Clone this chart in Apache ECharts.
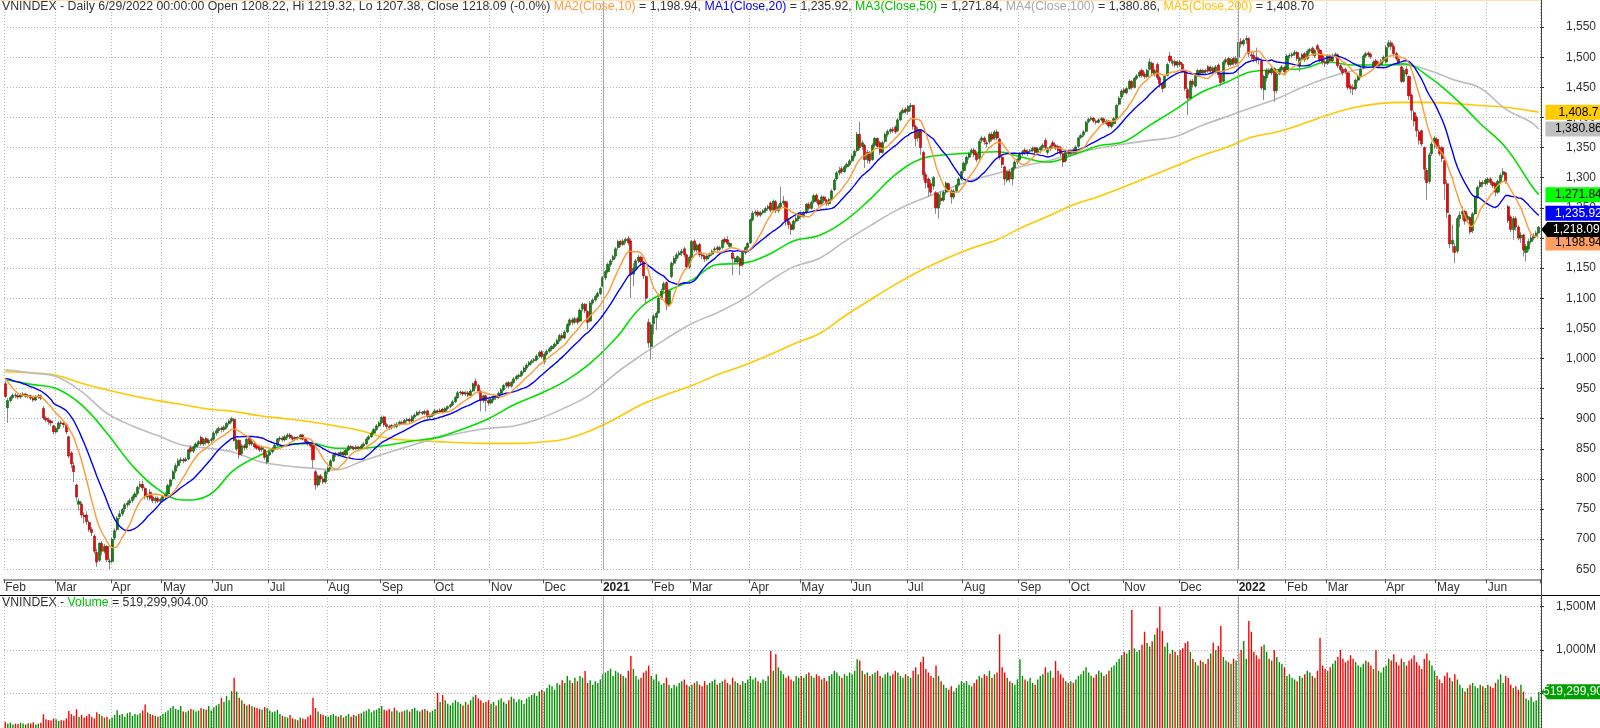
<!DOCTYPE html>
<html><head><meta charset="utf-8">
<script src="https://cdn.jsdelivr.net/npm/echarts@6/dist/echarts.min.js"></script>
<style>html,body{margin:0;padding:0;background:#fff}#c{width:1600px;height:728px}</style>
</head><body><div id="c"></div>
<script>
// ---- categories: month labels and number of trading days in each month ----
const monthLabels = ['Feb','Mar','Apr','May','Jun','Jul','Aug','Sep','Oct','Nov','Dec','2021','Feb','Mar','Apr','May','Jun','Jul','Aug','Sep','Oct','Nov','Dec','2022','Feb','Mar','Apr','May','Jun'];
const monthDays   = [20,22,20,20,22,23,21,21,22,21,23,20,15,23,20,20,22,22,22,20,21,22,23,19,16,23,20,20,21];

// ---- daily candles [open, close, low, high] ----
const candles = [
// Feb 2020
[958,937,934,962],[918,930,893,934],[930,935,927,938],[935,939,932,942],[939,938,934,943],[938,936,932,941],[936,939,933,942],[939,941,936,944],[941,937,935,943],[937,938,934,941],
[938,934,931,940],[934,931,928,937],[931,936,929,939],[936,938,933,941],[938,934,931,940],[917,901,898,921],[901,898,894,905],[898,895,890,902],[896,893,888,899],[888,878,874,890],
// Mar 2020
[878,884,875,888],[884,893,882,896],[893,892,887,897],[892,890,885,895],[890,878,874,892],[870,838,835,872],[843,825,818,846],[822,812,795,828],[790,770,763,792],[758,763,748,768],
[758,740,735,762],[740,737,726,745],[740,729,724,746],[728,716,712,731],[716,711,705,720],[705,680,676,708],[678,662,654,684],[665,693,662,696],[693,680,673,697],[680,688,676,692],
[688,666,662,690],[662,664,650,668],
// Apr 2020
[663,700,660,703],[702,714,698,718],[716,735,713,738],[737,742,733,748],[742,749,738,752],[750,757,745,760],[757,760,752,764],[760,764,756,768],[764,770,760,773],[770,775,766,779],
[776,786,773,789],[787,791,783,796],[791,785,780,797],[784,770,766,787],[770,772,765,776],[778,768,764,783],[770,764,760,773],[764,768,759,771],[768,763,760,771],[763,766,760,769],
// May 2020
[766,771,762,774],[771,774,767,778],[775,789,773,792],[789,798,786,801],[800,812,797,815],[813,822,810,826],[822,830,818,834],[830,832,826,836],[832,830,826,835],[830,833,828,836],
[833,848,831,850],[852,846,843,856],[846,853,843,856],[853,858,850,861],[858,862,855,865],[869,858,855,872],[858,866,855,868],[867,860,857,870],[860,864,857,867],[864,866,860,869],
// Jun 2020
[866,876,863,879],[876,880,872,884],[880,884,876,887],[884,882,877,887],[882,886,878,889],[886,892,883,895],[892,896,889,899],[896,900,893,903],[899,864,862,901],[850,864,846,867],
[864,840,833,866],[842,855,838,858],[855,852,847,858],[852,866,849,868],[869,858,855,871],[858,862,855,865],[859,853,850,862],[856,851,848,858],[852,848,845,855],[849,852,845,856],
[848,836,832,850],[828,840,824,843],
// Jul 2020
[840,845,838,849],[845,850,842,853],[850,856,847,859],[856,866,853,868],[866,868,862,871],[868,865,862,871],[865,870,862,873],[870,873,867,876],[873,869,866,876],[869,866,863,872],
[866,869,862,871],[869,867,864,871],[867,873,865,875],[873,866,864,875],[866,862,859,868],[862,858,855,864],[858,855,852,860],[856,832,818,857],[812,790,782,815],[790,805,786,808],
[805,800,794,808],[800,795,791,804],[795,812,792,815],
// Aug 2020
[812,818,808,821],[818,830,816,833],[830,840,828,843],[840,842,836,845],[842,840,837,845],[840,844,838,847],[844,840,838,847],[840,848,838,850],[848,854,846,857],[854,852,849,856],
[852,850,847,855],[850,853,848,856],[853,851,848,855],[851,855,849,858],[855,858,853,861],[858,866,856,869],[866,870,864,873],[870,876,868,879],[876,882,874,885],[882,888,880,891],
[888,893,885,896],
// Sep 2020
[893,902,891,905],[903,890,886,905],[890,887,883,893],[887,885,881,890],[885,889,882,891],[889,887,884,892],[887,891,884,894],[891,894,888,897],[894,892,889,897],[892,897,890,900],
[897,899,894,902],[899,896,893,902],[896,903,894,906],[903,906,900,909],[906,910,904,913],[910,911,907,914],[911,909,906,913],[909,912,906,915],[913,903,900,915],[903,905,899,908],
[905,908,902,911],
// Oct 2020
[908,913,905,916],[913,911,908,915],[911,914,909,917],[916,912,909,918],[912,917,910,919],[917,920,914,922],[920,923,917,925],[923,928,921,931],[928,935,926,938],[935,943,933,946],
[943,944,939,947],[944,941,938,946],[941,943,938,946],[943,939,936,946],[939,946,937,949],[946,958,944,960],[962,955,950,967],[955,945,942,958],[945,930,912,948],[930,938,926,940],
[938,930,912,940],[930,926,922,933],
// Nov 2020
[926,932,924,935],[932,937,929,939],[937,935,931,940],[935,942,933,945],[942,948,940,951],[948,955,946,958],[955,959,951,961],[960,954,951,962],[954,960,952,963],[960,966,958,969],
[966,970,963,973],[970,972,966,975],[972,978,969,981],[978,984,975,987],[984,989,981,992],[989,993,986,996],[993,996,990,999],[996,998,993,1001],[998,1004,995,1007],[1004,1010,1001,1013],
[1011,1003,1000,1014],
// Dec 2020
[995,1007,990,1010],[1007,1012,1004,1015],[1012,1016,1009,1019],[1016,1020,1012,1022],[1020,1024,1017,1027],[1024,1030,1021,1033],[1030,1038,1027,1041],[1038,1034,1030,1042],[1034,1044,1032,1047],[1044,1056,1042,1059],
[1056,1064,1053,1067],[1064,1060,1055,1068],[1060,1066,1057,1069],[1066,1060,1056,1069],[1062,1080,1060,1083],[1082,1090,1078,1093],[1090,1079,1075,1092],[1078,1060,1048,1080],[1062,1092,1060,1095],[1092,1097,1089,1100],
[1097,1103,1094,1106],[1103,1108,1100,1111],[1108,1116,1105,1119],
// Jan 2021
[1120,1134,1118,1137],[1134,1144,1130,1147],[1144,1156,1141,1159],[1156,1162,1152,1165],[1164,1169,1160,1172],[1170,1182,1166,1185],[1184,1194,1180,1197],[1194,1189,1185,1197],[1189,1195,1187,1198],[1195,1198,1191,1201],
[1199,1192,1188,1203],[1195,1140,1100,1199],[1140,1150,1120,1158],[1150,1162,1145,1165],[1162,1168,1158,1172],[1168,1160,1155,1171],[1160,1137,1132,1162],[1136,1100,1091,1138],[1060,1026,1018,1066],[1020,1056,998,1060],
// Feb 2021
[1058,1070,1040,1074],[1068,1075,1047,1078],[1076,1100,1074,1104],[1100,1112,1097,1116],[1114,1124,1110,1128],[1126,1090,1080,1128],[1090,1112,1086,1115],[1136,1158,1133,1161],[1158,1166,1154,1170],[1166,1172,1161,1176],
[1172,1175,1167,1179],[1175,1178,1170,1182],[1182,1172,1168,1185],[1172,1152,1148,1174],[1152,1168,1148,1171],
// Mar 2021
[1168,1194,1166,1197],[1195,1180,1176,1198],[1180,1188,1176,1191],[1189,1172,1168,1192],[1172,1170,1165,1177],[1170,1165,1160,1172],[1165,1170,1162,1172],[1170,1173,1167,1176],[1173,1178,1170,1181],[1180,1182,1176,1186],
[1184,1181,1177,1187],[1181,1184,1178,1187],[1184,1196,1181,1198],[1198,1194,1190,1201],[1197,1191,1188,1203],[1186,1191,1183,1193],[1175,1166,1138,1178],[1160,1166,1156,1169],[1160,1169,1156,1171],[1166,1154,1138,1168],
[1156,1176,1152,1178],[1176,1184,1172,1186],[1184,1191,1180,1193],
// Apr 2021
[1192,1230,1190,1233],[1230,1241,1227,1245],[1241,1243,1236,1247],[1243,1238,1234,1246],[1238,1242,1235,1245],[1242,1245,1239,1248],[1245,1249,1241,1252],[1249,1252,1245,1255],[1258,1246,1242,1261],[1246,1261,1244,1264],
[1260,1245,1241,1263],[1245,1252,1242,1256],[1252,1258,1248,1285],[1258,1261,1254,1270],[1260,1228,1220,1262],[1228,1222,1215,1233],[1222,1214,1205,1226],[1215,1228,1212,1231],[1228,1232,1224,1236],[1232,1240,1228,1243],
// May 2021
[1240,1236,1232,1244],[1236,1242,1233,1245],[1243,1256,1240,1258],[1256,1249,1245,1259],[1249,1259,1247,1262],[1260,1270,1257,1273],[1271,1262,1258,1274],[1262,1256,1252,1265],[1257,1268,1255,1271],[1268,1262,1258,1270],
[1262,1257,1253,1265],[1257,1264,1254,1266],[1265,1278,1263,1281],[1280,1296,1278,1299],[1298,1308,1295,1311],[1308,1312,1304,1318],[1315,1310,1306,1319],[1310,1318,1308,1321],[1318,1322,1315,1325],[1322,1328,1319,1331],
// Jun 2021
[1328,1336,1325,1339],[1336,1344,1332,1347],[1345,1372,1342,1376],[1372,1350,1346,1393],[1352,1358,1346,1362],[1354,1330,1316,1356],[1330,1342,1324,1346],[1342,1328,1323,1344],[1330,1354,1328,1357],[1354,1365,1350,1368],
[1365,1352,1349,1367],[1358,1342,1338,1361],[1342,1358,1340,1362],[1360,1372,1357,1375],[1372,1377,1368,1380],[1377,1380,1373,1383],[1380,1378,1374,1384],[1384,1376,1373,1387],[1378,1396,1376,1399],[1396,1408,1394,1411],
[1408,1412,1405,1416],[1414,1410,1406,1417],
// Jul 2021
[1410,1418,1405,1421],[1418,1420,1410,1424],[1420,1385,1380,1421],[1385,1365,1352,1388],[1366,1380,1360,1384],[1378,1350,1338,1380],[1342,1305,1296,1345],[1305,1292,1282,1310],[1298,1284,1268,1300],[1290,1276,1270,1296],
[1286,1300,1280,1303],[1275,1250,1240,1278],[1250,1272,1232,1275],[1266,1262,1255,1278],[1263,1276,1260,1279],[1276,1291,1272,1294],[1290,1280,1276,1292],[1278,1268,1257,1281],[1268,1278,1264,1281],[1278,1287,1275,1290],
[1288,1298,1285,1301],[1298,1310,1295,1312],
// Aug 2021
[1312,1324,1308,1327],[1324,1334,1320,1337],[1334,1340,1330,1343],[1342,1346,1338,1349],[1346,1338,1334,1349],[1340,1330,1326,1344],[1332,1360,1330,1364],[1362,1366,1358,1370],[1366,1360,1355,1369],[1358,1356,1350,1362],
[1360,1372,1356,1375],[1372,1364,1360,1376],[1366,1376,1362,1379],[1376,1366,1362,1380],[1364,1334,1330,1366],[1334,1322,1316,1336],[1318,1298,1288,1320],[1296,1310,1292,1312],[1310,1298,1292,1313],[1298,1316,1288,1318],
[1316,1326,1312,1329],[1326,1330,1322,1333],
// Sep 2021
[1330,1340,1327,1343],[1340,1343,1336,1346],[1346,1342,1338,1349],[1340,1344,1336,1347],[1344,1345,1340,1348],[1345,1349,1342,1352],[1350,1342,1338,1352],[1342,1348,1339,1351],[1346,1350,1340,1353],[1350,1354,1346,1357],
[1362,1350,1346,1366],[1342,1348,1338,1351],[1348,1352,1344,1355],[1358,1353,1349,1362],[1353,1349,1346,1356],[1352,1345,1341,1355],[1350,1340,1335,1353],[1340,1326,1318,1343],[1328,1342,1325,1345],[1342,1340,1335,1346],
// Oct 2021
[1340,1344,1335,1347],[1346,1341,1338,1349],[1341,1351,1338,1354],[1352,1366,1350,1368],[1367,1370,1364,1373],[1371,1376,1368,1379],[1377,1392,1375,1394],[1393,1397,1390,1400],[1397,1399,1394,1402],[1399,1394,1391,1401],
[1394,1392,1388,1397],[1392,1396,1390,1399],[1396,1398,1393,1401],[1398,1391,1388,1400],[1390,1394,1387,1397],[1394,1386,1382,1396],[1385,1390,1382,1393],[1390,1398,1387,1401],[1399,1420,1397,1423],[1422,1432,1419,1435],
[1434,1444,1430,1447],
// Nov 2021
[1446,1441,1437,1450],[1441,1448,1438,1451],[1448,1460,1446,1463],[1460,1450,1446,1462],[1450,1465,1448,1467],[1465,1469,1462,1472],[1469,1475,1466,1478],[1478,1470,1466,1481],[1472,1468,1464,1476],[1468,1478,1465,1481],
[1480,1492,1478,1498],[1490,1474,1470,1493],[1472,1478,1468,1481],[1488,1466,1462,1491],[1466,1456,1450,1469],[1456,1448,1442,1459],[1450,1468,1448,1471],[1470,1488,1468,1491],[1502,1494,1490,1509],[1490,1493,1485,1497],
[1493,1487,1483,1496],[1487,1492,1482,1495],
// Dec 2021
[1492,1488,1484,1496],[1488,1478,1474,1491],[1476,1448,1444,1478],[1446,1432,1404,1450],[1432,1460,1428,1463],[1460,1455,1450,1464],[1452,1470,1450,1473],[1470,1478,1467,1481],[1478,1474,1470,1481],[1474,1478,1471,1481],
[1478,1476,1472,1481],[1484,1477,1474,1487],[1477,1483,1474,1486],[1482,1476,1472,1485],[1476,1484,1473,1487],[1487,1471,1465,1490],[1474,1458,1452,1477],[1460,1492,1458,1495],[1492,1496,1488,1499],[1498,1488,1484,1501],
[1488,1496,1485,1499],[1498,1490,1486,1501],[1490,1498,1487,1502],
// Jan 2022
[1500,1525,1498,1529],[1526,1522,1516,1532],[1522,1528,1518,1531],[1529,1531,1522,1536],[1531,1506,1500,1533],[1504,1502,1496,1510],[1503,1497,1492,1509],[1500,1497,1490,1516],[1497,1496,1488,1500],[1494,1449,1446,1498],
[1446,1468,1429,1471],[1466,1478,1460,1482],[1478,1474,1470,1482],[1474,1481,1470,1484],[1481,1444,1426,1483],[1445,1472,1440,1476],[1472,1480,1470,1483],[1480,1484,1476,1487],[1483,1476,1472,1486],
// Feb 2022
[1480,1502,1478,1505],[1502,1503,1498,1507],[1503,1505,1499,1508],[1505,1508,1502,1512],[1508,1498,1494,1510],[1486,1498,1476,1501],[1498,1504,1494,1507],[1506,1496,1492,1509],[1498,1510,1495,1513],[1510,1513,1506,1516],
[1515,1507,1503,1518],[1502,1511,1499,1514],[1519,1513,1509,1522],[1512,1496,1492,1515],[1503,1492,1488,1506],[1492,1490,1484,1496],
// Mar 2022
[1490,1502,1487,1505],[1502,1494,1490,1505],[1494,1503,1491,1506],[1503,1505,1499,1508],[1504,1486,1482,1506],[1486,1480,1476,1489],[1480,1474,1470,1484],[1480,1476,1472,1483],[1474,1450,1446,1476],[1452,1448,1440,1456],
[1450,1447,1437,1455],[1448,1462,1445,1465],[1462,1468,1458,1471],[1468,1480,1465,1483],[1482,1502,1480,1505],[1502,1506,1499,1509],[1507,1504,1500,1510],[1505,1501,1497,1508],[1484,1492,1480,1495],[1494,1486,1482,1497],
[1486,1490,1482,1493],[1488,1494,1485,1497],[1494,1500,1491,1503],
// Apr 2022
[1492,1516,1490,1520],[1518,1524,1515,1529],[1524,1518,1512,1528],[1518,1506,1502,1522],[1506,1498,1494,1509],[1497,1490,1486,1500],[1484,1460,1457,1486],[1460,1478,1458,1482],[1480,1472,1468,1485],[1468,1436,1429,1470],
[1437,1412,1396,1440],[1408,1394,1385,1412],[1400,1378,1368,1404],[1376,1362,1355,1380],[1378,1356,1352,1380],[1350,1314,1296,1352],[1312,1292,1263,1316],[1294,1338,1290,1342],[1340,1356,1336,1360],[1358,1366,1348,1369],
// May 2022
[1364,1352,1348,1367],[1350,1340,1336,1354],[1350,1332,1326,1353],[1328,1290,1263,1330],[1290,1242,1233,1296],[1238,1190,1183,1240],[1190,1196,1176,1222],[1186,1176,1158,1192],[1178,1232,1174,1236],[1232,1238,1218,1244],
[1240,1244,1230,1252],[1244,1228,1222,1247],[1230,1236,1225,1241],[1234,1210,1206,1236],[1212,1240,1208,1243],[1240,1268,1238,1270],[1268,1284,1265,1287],[1285,1292,1282,1296],[1292,1290,1284,1296],[1290,1296,1287,1299],
// Jun 2022
[1292,1298,1288,1301],[1298,1292,1288,1301],[1292,1287,1283,1295],[1290,1276,1269,1292],[1276,1294,1273,1297],[1294,1304,1290,1308],[1305,1310,1300,1316],[1308,1294,1290,1310],[1252,1229,1225,1255],[1235,1214,1210,1238],
[1214,1232,1197,1236],[1232,1218,1212,1236],[1218,1200,1196,1222],[1200,1205,1192,1210],[1205,1180,1169,1207],[1176,1186,1161,1190],[1182,1194,1178,1198],[1194,1200,1190,1205],[1200,1204,1196,1208],[1204,1208,1200,1212],
[1208.22,1218.09,1207.38,1219.32]
];

// ---- daily volume, millions of shares ----
const volumes = [
170,150,160,140,150,145,160,150,140,155,150,165,140,150,160,257,200,190,185,210,
200,180,190,185,210,295,260,240,315,230,250,220,240,260,230,210,280,260,240,220,230,200,
220,250,303,250,260,230,270,280,240,260,250,270,300,372,280,260,250,240,230,240,
260,280,300,330,353,320,310,353,290,280,300,320,310,290,300,330,320,310,353,300,
340,360,380,449,400,468,420,526,680,520,450,420,380,360,372,350,340,330,320,310,340,330,
300,280,290,310,260,240,230,220,250,210,200,190,220,210,200,230,250,449,330,290,260,250,240,
230,250,260,240,230,250,220,240,260,230,250,240,260,270,290,300,320,280,300,310,330,
353,310,300,320,290,334,300,280,290,300,310,290,320,330,300,290,310,320,300,280,300,
320,507,400,480,420,380,360,390,420,400,380,360,400,370,420,460,480,440,420,390,400,420,
380,400,360,420,440,400,380,420,460,440,400,430,420,380,440,460,480,500,470,520,540,
520,560,600,580,540,620,600,650,620,700,650,620,680,640,700,680,757,620,650,600,640,620,660,
720,740,760,784,700,760,740,720,700,680,760,930,780,700,660,680,740,760,820,700,
660,719,640,600,620,680,600,560,600,580,620,640,660,600,580,
600,620,640,600,580,640,600,620,640,660,600,620,640,660,620,600,680,640,620,600,640,620,660,
700,660,680,640,620,660,640,700,988,760,950,800,760,720,680,700,660,640,700,680,
700,680,720,740,700,680,720,700,660,680,640,700,720,760,740,700,680,720,700,740,
720,760,892,880,760,720,740,700,720,740,760,700,680,720,740,700,720,760,740,700,680,720,
700,680,760,800,720,860,923,780,740,700,680,820,700,640,600,560,540,580,520,560,600,640,
620,640,600,580,620,660,700,680,720,700,760,680,720,740,1181,800,740,680,640,620,600,660,
892,700,660,640,680,620,600,660,700,720,800,740,760,680,873,760,720,680,640,620,
640,620,660,700,720,760,800,740,700,680,720,760,740,700,720,760,800,820,860,900,940,
980,960,1000,1462,1020,980,1000,1060,1211,1080,1040,1100,1180,1250,1500,1219,1040,1085,960,1000,980,940,
1000,1020,1080,1100,980,900,860,820,880,860,840,900,960,1085,1000,1046,1277,920,880,860,840,900,880,
960,1000,1104,900,1335,1211,980,940,900,1040,1060,980,900,880,1000,920,860,840,800,
700,720,680,660,640,700,680,720,760,740,700,680,760,1142,820,780,
760,800,840,880,920,1000,900,860,880,940,900,860,820,800,840,880,860,820,780,1000,760,740,800,
820,900,880,950,860,820,900,860,820,880,900,940,860,820,780,900,960,880,820,760,
700,660,620,700,740,680,640,720,660,600,560,520,560,600,620,580,560,600,580,560,
600,580,560,620,660,719,620,700,680,600,560,580,540,600,520,440,420,460,400,420,519.3
];

// ---- short MAs before a full window exists (first bars) ----
const ma10Head = [967,961,956,950,946,942,940,939,938];
const ma20Head = [967,966,965,963,962,961,960,958,957,955,953,952,950,948,946,943,940,936,932];

// ---- long moving averages every MA_STEP bars (last one = final bar) ----
const MA_STEP = 10;
const ma50Pts  = [965,957,950,923,876,822,783,765,773,815, 839,856,859,851,851,856,863,869,883,900, 923,941,962,992,1033,1085,1111,1130,1156,1158, 1172,1195,1204,1228,1264,1305,1331,1338,1341,1343, 1334,1326,1338,1353,1360,1387,1413,1441,1458,1476, 1479,1481,1492,1487,1487,1489,1467,1432,1390,1350, 1288,1271.84];
const ma100Pts = [981,976,970,945,909,888,872,856,851,844, 829,822,818,815,829,843,856,868,877,884, 888,900,918,940,975,1005,1033,1058,1076,1098, 1127,1152,1166,1194,1220,1245,1264,1280,1296,1307, 1319,1328,1340,1349,1356,1362,1368,1386,1401,1416, 1431,1450,1466,1478,1485,1487,1478,1462,1449,1414, 1392,1380.86];
const ma200Pts = [978,976,972,959,948,938,930,923,916,912, 905,900,895,888,880,868,864,862,860,859, 859,861,866,880,900,923,940,955,973,988, 1005,1024,1041,1070,1097,1123,1146,1166,1183,1197, 1218,1236,1255,1269,1285,1302,1319,1336,1350,1367, 1376,1389,1404,1416,1423,1425,1425,1423,1420,1417, 1411,1408.70];

// ---- values printed in the header / right-hand tags ----
const lastMA = { ma10: 1198.94, ma20: 1235.92, ma50: 1271.84, ma100: 1380.86, ma200: 1408.70 };
const lastVolume = 519299904;
const priceTicks = { min: 650, max: 1595, step: 50 };
const volTicks = { min: 0, max: 1635, step: 500 };

// ================= build =================
const FONT = 'Arial, "Liberation Sans", sans-serif';
const UP = '#009000', DOWN = '#ff0000';
const cats = [], monthStart = {};
let n = 0;
monthLabels.forEach((lab, m) => { monthStart[n] = lab; for (let d = 0; d < monthDays[m]; d++) cats.push('d' + (n++)); });
const LAST = cats.length - 1;
const isStart = (i) => monthStart[i] !== undefined;
const yearCats = Object.keys(monthStart).filter(k => /^\d{4}$/.test(monthStart[k])).map(k => cats[+k]);

const closes = candles.map(c => c[1]);
function movingAverage(len, head) {
  return closes.map((_, i) => {
    if (i < len - 1 && head[i] !== undefined) return head[i];
    const s = Math.max(0, i - len + 1); let sum = 0;
    for (let j = s; j <= i; j++) sum += closes[j];
    return +(sum / (i - s + 1)).toFixed(2);
  });
}
function spread(pts) {
  const a = new Array(cats.length).fill(null);
  pts.forEach((v, k) => { a[Math.min(k * MA_STEP, LAST)] = v; });
  return a;
}
const bodies = candles.map(([o, c]) => [o, c, Math.min(o, c), Math.max(o, c)]);
const fmt = (v) => v.toLocaleString('en-US');
const fmt2 = (v) => v.toLocaleString('en-US', { minimumFractionDigits: 2, maximumFractionDigits: 2 });
const lastC = candles[LAST];

function tag(value, text, bg, fg, dy, arrow) {
  return {
    silent: true,
    symbol: arrow ? 'path://M0,7.5L6,0L66,0L66,15L6,15Z' : 'rect',
    symbolSize: arrow ? [66, 15] : [62, 15],
    symbolKeepAspect: false,
    symbolOffset: [arrow ? 35.6 : 37.7, dy],
    itemStyle: { color: bg },
    label: { show: true, position: 'inside', color: fg, fontSize: 12, fontFamily: FONT, offset: [2, 0], formatter: text },
    data: [{ coord: [cats[LAST], value] }]
  };
}
const yearLines = () => ({
  silent: true, symbol: ['none', 'none'], label: { show: false },
  lineStyle: { color: '#a8a8a8', type: 'solid', width: 1 },
  data: yearCats.map(c => ({ xAxis: c }))
});

const volData = volumes.map((v, i) => ({ value: v, itemStyle: { color: candles[i][1] >= candles[i][0] ? UP : DOWN } }));

const dotted = { type: [1, 2], color: '#b8b8b8', width: 1 };
const TS = 12.3;
const rs = (color) => ({ color, fontSize: TS, fontFamily: FONT, fontWeight: 'normal' });
const rich = { d: rs('#333'), o: rs('#ff9a40'), b: rs('#0000ff'), g: rs('#00c000'), s: rs('#a8a8a8'), y: rs('#ffc000') };

const option = {
  animation: false,
  backgroundColor: '#fff',
  title: [
    { left: 2, top: 1, padding: 0, textStyle: { rich, fontWeight: 'normal', fontSize: TS },
      text: `{d|VNINDEX - Daily 6/29/2022 00:00:00 Open ${lastC[0]}, Hi ${lastC[3]}, Lo ${lastC[2]}, Close ${lastC[1]} (-0.0%) }` +
            `{o|MA2(Close,10)}{d| = ${fmt2(lastMA.ma10)}, }{b|MA1(Close,20)}{d| = ${fmt2(lastMA.ma20)}, }` +
            `{g|MA3(Close,50)}{d| = ${fmt2(lastMA.ma50)}, }{s|MA4(Close,100)}{d| = ${fmt2(lastMA.ma100)}, }` +
            `{y|MA5(Close,200)}{d| = ${fmt2(lastMA.ma200)}}` },
    { left: 2, top: 597, padding: 0, textStyle: { rich, fontWeight: 'normal', fontSize: TS },
      text: `{d|VNINDEX - }{g|Volume}{d| = ${fmt2(lastVolume)}}` }
  ],
  grid: [
    { left: 4, right: 60, top: 0, height: 569.3, outerBoundsMode: 'none' },
    { left: 4, right: 60, top: 595, height: 141.6, outerBoundsMode: 'none' }
  ],
  xAxis: [
    { type: 'category', gridIndex: 0, data: cats, boundaryGap: true, offset: 10,
      axisLine: { lineStyle: { color: '#a0a0a0', width: 2 } },
      axisTick: { show: true, interval: (i) => isStart(i), length: 4, lineStyle: { color: '#555' } },
      axisLabel: { interval: (i) => isStart(i), align: 'left', margin: 2, color: '#333', fontSize: 12, fontFamily: FONT,
        formatter: (v, i) => /^\d/.test(monthStart[i]) ? '{y|' + monthStart[i] + '}' : monthStart[i],
        rich: { y: { fontWeight: 'bold', color: '#222', fontSize: 12, fontFamily: FONT } } },
      splitLine: { show: true, interval: (i) => isStart(i), lineStyle: dotted } },
    { type: 'category', gridIndex: 1, data: cats, boundaryGap: true,
      axisLine: { show: false }, axisTick: { show: false }, axisLabel: { show: false },
      splitLine: { show: true, interval: (i) => isStart(i), lineStyle: dotted } }
  ],
  yAxis: [
    { type: 'value', gridIndex: 0, position: 'right', min: priceTicks.min, max: priceTicks.max, interval: priceTicks.step,
      axisLine: { show: false }, axisTick: { show: true, length: 4, lineStyle: { color: '#333' } },
      axisLabel: { color: '#333', fontSize: 12, fontFamily: FONT, align: 'right', margin: 56, showMaxLabel: false, formatter: (v) => fmt(v) },
      splitLine: { show: true, lineStyle: dotted } },
    { type: 'value', gridIndex: 1, position: 'right', min: volTicks.min, max: volTicks.max, interval: volTicks.step,
      axisLine: { show: false }, axisTick: { show: true, length: 4, lineStyle: { color: '#333' } },
      axisLabel: { color: '#333', fontSize: 12, fontFamily: FONT, align: 'right', margin: 56, showMaxLabel: false,
        formatter: (v) => v >= 1000 ? fmt(v) + 'M' : '' },
      splitLine: { show: true, lineStyle: dotted } }
  ],
  series: [
    { name: 'MA200', type: 'line', data: spread(ma200Pts), connectNulls: true, smooth: 0.4, showSymbol: false, z: 3,
      lineStyle: { color: '#ffc800', width: 1.6 }, markPoint: tag(lastMA.ma200, fmt(lastMA.ma200), '#ffcc00', '#000', 0) },
    { name: 'MA100', type: 'line', data: spread(ma100Pts), connectNulls: true, smooth: 0.4, showSymbol: false, z: 3,
      lineStyle: { color: '#bdbdbd', width: 1.6 }, markPoint: tag(lastMA.ma100, fmt(lastMA.ma100), '#c0c0c0', '#000', 0) },
    { name: 'MA50', type: 'line', data: spread(ma50Pts), connectNulls: true, smooth: 0.4, showSymbol: false, z: 3,
      lineStyle: { color: '#00e000', width: 1.6 }, markPoint: tag(lastMA.ma50, fmt(lastMA.ma50), '#00ff00', '#000', 0) },
    { name: 'VNINDEX wicks', type: 'candlestick', data: candles, large: false, barWidth: 1, z: 4,
      itemStyle: { color: '#8a8a8a', color0: '#8a8a8a', borderColor: '#8a8a8a', borderColor0: '#8a8a8a', borderWidth: 1 },
      markLine: yearLines() },
    { name: 'VNINDEX', type: 'candlestick', data: bodies, large: false, barWidth: 2.6, z: 4,
      itemStyle: { color: UP, color0: DOWN, borderColor: '#1e4d1e', borderColor0: '#8a1010', borderWidth: 0.6 } },
    { name: 'MA20', type: 'line', data: movingAverage(20, ma20Head), showSymbol: false, z: 5,
      lineStyle: { color: '#0000ff', width: 1.4 }, markPoint: tag(lastMA.ma20, fmt(lastMA.ma20), '#0000ff', '#fff', -3) },
    { name: 'MA10', type: 'line', data: movingAverage(10, ma10Head), showSymbol: false, z: 5,
      lineStyle: { color: '#ff9933', width: 1.4 }, markPoint: tag(lastMA.ma10, fmt(lastMA.ma10), '#ffa060', '#000', 4.5) },
    { name: 'Close', type: 'line', data: closes, showSymbol: false, z: 6, lineStyle: { opacity: 0 },
      markPoint: tag(lastC[1], fmt(lastC[1]), '#000', '#fff', 2.5, true) },
    { name: 'Volume', type: 'bar', xAxisIndex: 1, yAxisIndex: 1, data: volData, barWidth: 1.4, z: 3,
      markLine: yearLines(),
      markPoint: tag(lastVolume / 1e6, fmt(lastVolume), '#00a000', '#fff', 0, true) }
  ],
  graphic: [
    { type: 'line', silent: true, z: 100, shape: { x1: 0, y1: 595.5, x2: 1600, y2: 595.5 }, style: { stroke: '#000', lineWidth: 1 } },
    { type: 'line', silent: true, z: 100, shape: { x1: 1541.5, y1: 0, x2: 1541.5, y2: 728 }, style: { stroke: '#444', lineWidth: 1 } },
    { type: 'line', silent: true, z: 100, shape: { x1: 0, y1: 0.5, x2: 1541, y2: 0.5 }, style: { stroke: '#ffe2b0', lineWidth: 1 } }
  ]
};
const chart = echarts.init(document.getElementById('c'), null, { renderer: 'canvas', width: 1600, height: 728 });
chart.setOption(option);
</script></body></html>
